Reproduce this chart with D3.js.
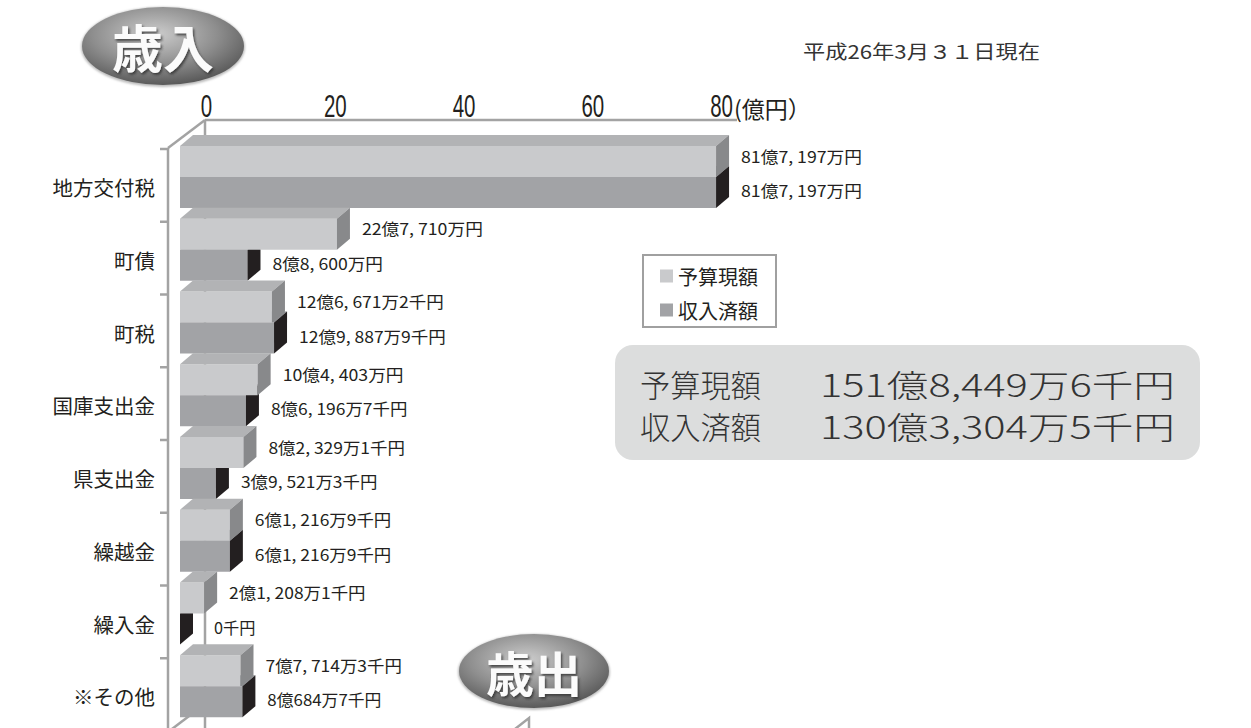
<!DOCTYPE html>
<html><head><meta charset="utf-8">
<script src="https://cdn.jsdelivr.net/npm/d3@7/dist/d3.min.js"></script>
<style>body{margin:0;background:#fff;}svg{display:block;}</style>
</head><body>
<script>
// ---- data ----
const categories = ["地方交付税","町債","町税","国庫支出金","県支出金","繰越金","繰入金","※その他"];
const budgetValues  = [81.7197, 22.771, 12.66712, 10.4403, 8.23291, 6.12169, 2.12081, 7.77143]; // 億円
const revenueValues = [81.7197, 8.86, 12.98879, 8.61967, 3.95213, 6.12169, 0, 8.06847];
const budgetLabels  = ["81億7, 197万円","22億7, 710万円","12億6, 671万2千円","10億4, 403万円","8億2, 329万1千円","6億1, 216万9千円","2億1, 208万1千円","7億7, 714万3千円"];
const revenueLabels = ["81億7, 197万円","8億8, 600万円","12億9, 887万9千円","8億6, 196万7千円","3億9, 521万3千円","6億1, 216万9千円","0千円","8億684万7千円"];
const tickValues = [0,20,40,60,80];
const seriesNames = ["予算現額","収入済額"];
const totalLines = [["予算現額","151億8,449万6千円"],["収入済額","130億3,304万5千円"]];
const dateText = "平成26年3月３１日現在";
const unitText = "(億円）";

const W = 1251, H = 728;
const CJK = "'Noto Sans CJK JP','Noto Sans CJK SC',sans-serif";
const svg = d3.select("body").append("svg").attr("width", W).attr("height", H);
const defs = svg.append("defs");

// badge gradient
const rg = defs.append("radialGradient").attr("id","badge").attr("cx","45%").attr("cy","35%").attr("r","70%");
rg.append("stop").attr("offset","0%").attr("stop-color","#cdcdcd");
rg.append("stop").attr("offset","55%").attr("stop-color","#8e8e8e");
rg.append("stop").attr("offset","100%").attr("stop-color","#505050");
const flt = defs.append("filter").attr("id","sh").attr("x","-20%").attr("y","-20%").attr("width","140%").attr("height","140%");
flt.append("feDropShadow").attr("dx",1.5).attr("dy",2).attr("stdDeviation",1.2).attr("flood-color","#333").attr("flood-opacity",0.8);
const bflt = defs.append("filter").attr("id","bsh").attr("x","-20%").attr("y","-20%").attr("width","140%").attr("height","140%");
bflt.append("feGaussianBlur").attr("stdDeviation",1.2);

function badge(cx, cy, rx, ry, text, fs){
  const g = svg.append("g");
  g.append("ellipse").attr("cx",cx).attr("cy",cy+1).attr("rx",rx+1).attr("ry",ry+1).attr("fill","#bbb").attr("filter","url(#bsh)");
  g.append("ellipse").attr("cx",cx).attr("cy",cy).attr("rx",rx).attr("ry",ry).attr("fill","url(#badge)");
  g.append("text").attr("x",cx).attr("y",cy).attr("text-anchor","middle").attr("dominant-baseline","central")
    .attr("font-family",CJK).attr("font-weight",700).attr("font-size",fs).attr("fill","#fbfbfb")
    .attr("filter","url(#sh)").text(text);
}
badge(163, 46, 81, 39, "歳入", 51);
badge(534, 671, 75, 37, "歳出", 48);

// date
svg.append("text").attr("x",803).attr("y",50).attr("dominant-baseline","central")
  .attr("font-family",CJK).attr("font-size",19).attr("fill","#333")
  .attr("textLength",237).attr("lengthAdjust","spacingAndGlyphs").text(dateText);

// ---- scales ----
const xAxisScale = d3.scaleLinear().domain([0,80]).range([206, 721]); // back wall
const xBar = d3.scaleLinear().domain([0,80]).range([190.5, 705]);     // bar front face
const barLeft = 180;
const y = d3.scaleBand().domain(categories).range([149, 731]).padding(0);
const DX = 13, DY = 11, BH = 31;

// ---- frame ----
const frame = svg.append("g").attr("stroke","#a3a3a3").attr("stroke-width",2.5).attr("fill","none");
frame.append("line").attr("x1",xAxisScale(0)-1).attr("y1",120).attr("x2",737).attr("y2",120);
frame.append("line").attr("x1",xAxisScale(0)-1).attr("y1",120).attr("x2",xAxisScale(0)-1).attr("y2",H);
frame.append("line").attr("x1",xAxisScale(0)-1).attr("y1",120).attr("x2",168).attr("y2",148);
frame.append("line").attr("x1",168).attr("y1",148).attr("x2",168).attr("y2",H);
frame.append("line").attr("x1",168).attr("y1",732).attr("x2",205).attr("y2",704);
categories.forEach(c => {
  frame.append("line").attr("x1",160).attr("x2",168).attr("y1",y(c)).attr("y2",y(c));
});
// corner of next chart frame
frame.append("polyline").attr("points","515,729 529,718 529,729");

// ---- axis ----
const axis = d3.axisTop(xAxisScale).tickValues(tickValues).tickSize(0).tickPadding(0).tickFormat(d3.format("d"));
const ag = svg.append("g").attr("transform","translate(0,117)").call(axis);
ag.select(".domain").remove();
ag.selectAll("text").attr("y",0).attr("dy",0)
  .attr("font-family","'Liberation Sans',Arial,sans-serif").attr("font-size",31).attr("fill","#231f20")
  .attr("transform","scale(0.66,1)");
svg.append("text").attr("x",734).attr("y",118).attr("font-family",CJK).attr("font-size",23).attr("fill","#231f20").text(unitText);

// ---- bars ----
function drawBar(g, x0, x1, yTop, yBot, col){
  g.append("rect").attr("x",x0).attr("y",yTop).attr("width",Math.max(0,x1-x0)).attr("height",yBot-yTop).attr("fill",col.front);
  g.append("polygon").attr("points",[[x0,yTop],[x0+DX,yTop-DY],[x1+DX,yTop-DY],[x1,yTop]].join(" ")).attr("fill",col.top);
  g.append("polygon").attr("points",[[x1,yTop],[x1+DX,yTop-DY],[x1+DX,yBot-DY],[x1,yBot]].join(" ")).attr("fill",col.side);
}
const upperCol = {front:"#c9cacc", top:"#b2b3b5", side:"#88898b"};
const lowerCol = {front:"#a2a3a6", top:"#8c8d90", side:"#231f20"};
const bars = svg.append("g");
function labelWidth(s){
  let w = 0;
  for (const ch of s){
    if (/[0-9]/.test(ch)) w += 10.4;
    else if (ch === ",") w += 7;
    else if (ch === " ") w += 5;
    else w += 15.5;
  }
  return w;
}
const labels = svg.append("g");
categories.forEach((c,i) => {
  const b = y(c);
  const uTop = b - 3, uBot = uTop + BH, lBot = uBot + BH;
  const xu = budgetValues[i] > 0 ? xBar(budgetValues[i]) : barLeft;
  const xl = revenueValues[i] > 0 ? xBar(revenueValues[i]) : barLeft;
  drawBar(bars, barLeft, xl, uBot, lBot, lowerCol);
  drawBar(bars, barLeft, xu, uTop, uBot, upperCol);
  [[budgetLabels[i], budgetValues[i], xu, b + 6.5],[revenueLabels[i], revenueValues[i], xl, b + 41]].forEach(([t,v,xr,yy]) => {
    labels.append("text").attr("x", xr + (v > 0 ? 25 : 34)).attr("y", yy).attr("dominant-baseline","central")
      .attr("font-family",CJK).attr("font-size",16).attr("fill","#231f20")
      .attr("textLength",labelWidth(t)).attr("lengthAdjust","spacingAndGlyphs").text(t);
  });
  svg.append("text").attr("x",155).attr("y",b + 38).attr("text-anchor","end").attr("dominant-baseline","central")
    .attr("font-family",CJK).attr("font-size",20.5).attr("fill","#231f20").text(c);
});

// ---- legend ----
const lg = svg.append("g");
lg.append("rect").attr("x",643).attr("y",255).attr("width",133).attr("height",72).attr("fill","#fff").attr("stroke","#a0a0a0").attr("stroke-width",2);
[upperCol.front, lowerCol.front].forEach((col,k) => {
  const yy = 276 + k*34;
  lg.append("rect").attr("x",660).attr("y",yy-6.5).attr("width",13).attr("height",13).attr("fill",col);
  lg.append("text").attr("x",678).attr("y",yy).attr("dominant-baseline","central")
    .attr("font-family",CJK).attr("font-size",20).attr("fill","#231f20").text(seriesNames[k]);
});

// ---- totals box ----
const tb = svg.append("g");
tb.append("rect").attr("x",615).attr("y",345).attr("width",585).attr("height",115).attr("rx",18).attr("fill","#dcdddd");
totalLines.forEach(([a,b],k) => {
  const yy = 383 + k*42;
  tb.append("text").attr("x",640).attr("y",yy).attr("dominant-baseline","central")
    .attr("font-family",CJK).attr("font-weight",300).attr("font-size",31).attr("fill","#333")
    .attr("textLength",121).attr("lengthAdjust","spacingAndGlyphs").text(a);
  tb.append("text").attr("x",820).attr("y",yy).attr("dominant-baseline","central")
    .attr("font-family",CJK).attr("font-weight",300).attr("font-size",31).attr("fill","#333")
    .attr("textLength",355).attr("lengthAdjust","spacingAndGlyphs").text(b);
});
</script>
</body></html>
